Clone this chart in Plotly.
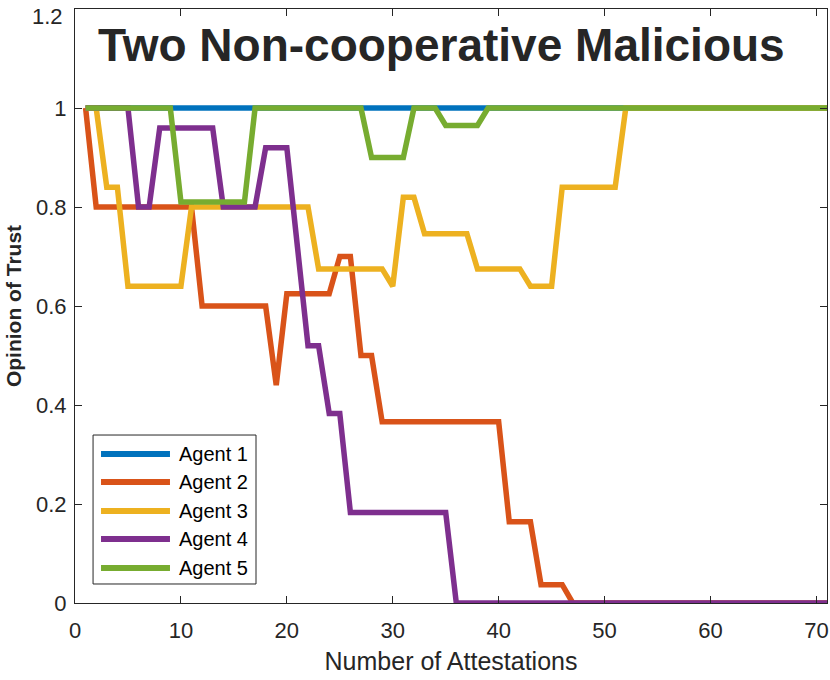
import plotly.graph_objects as go

# ---- data ----
attestations = list(range(1, 72))

agent1 = [1.0] * 71

agent2 = ([1.0] + [0.8] * 10 + [0.6] * 7 + [0.44] + [0.625] * 5 + [0.70] * 2 +
          [0.5] * 2 + [0.366] * 12 + [0.164] * 3 + [0.037] * 3 + [0.0] * 25)

agent3 = ([1.0] * 2 + [0.84] * 2 + [0.64] * 6 + [0.8] * 12 + [0.675] * 7 + [0.64] +
          [0.82] * 2 + [0.746] * 5 + [0.675] * 5 + [0.64] * 3 + [0.84] * 6 + [1.0] * 20)

agent4 = ([1.0] * 5 + [0.8] * 2 + [0.96] * 6 + [0.8] * 4 + [0.92] * 3 + [0.72] +
          [0.52] * 2 + [0.383] * 2 + [0.183] * 10 + [0.0] * 36)

agent5 = ([1.0] * 9 + [0.81] * 7 + [1.0] * 11 + [0.9] * 4 + [1.0] * 3 + [0.965] * 4 +
          [1.0] * 33)

series_names = ["Agent 1", "Agent 2", "Agent 3", "Agent 4", "Agent 5"]
series_values = [agent1, agent2, agent3, agent4, agent5]
colors = ["#0072BD", "#D95319", "#EDB120", "#7E2F8E", "#77AC30"]

x_ticks = [0, 10, 20, 30, 40, 50, 60, 70]
y_ticks = [0, 0.2, 0.4, 0.6, 0.8, 1.0, 1.2]
y_tick_labels = ["0", "0.2", "0.4", "0.6", "0.8", "1", "1.2"]

FONT = "Liberation Sans, Arial, Helvetica, sans-serif"
INK = "#262626"

fig = go.Figure()
for name, vals, col in zip(series_names, series_values, colors):
    fig.add_trace(go.Scatter(x=attestations, y=vals, mode="lines", name=name,
                             line=dict(color=col, width=5.5), showlegend=False))

# custom MATLAB-style legend
L_x0, L_x1, L_y0, L_y1 = 0.024, 0.2407, 0.032, 0.2828
shapes = [dict(type="rect", xref="paper", yref="paper", x0=L_x0, x1=L_x1, y0=L_y0, y1=L_y1,
               line=dict(color=INK, width=1), fillcolor="white", layer="above")]
annotations = []
entry_y = [0.2508, 0.2037, 0.1549, 0.1077, 0.0589]
for name, col, yy in zip(series_names, colors, entry_y):
    shapes.append(dict(type="line", xref="paper", yref="paper", x0=0.0346, x1=0.1263,
                       y0=yy, y1=yy, line=dict(color=col, width=6), layer="above"))
    annotations.append(dict(text=name, xref="paper", yref="paper", x=0.1352, y=yy,
                            xanchor="left", yanchor="middle", showarrow=False,
                            font=dict(family=FONT, size=20, color="black")))

annotations.append(dict(text="<b>Two Non-cooperative Malicious</b>", xref="paper", yref="paper",
                        x=0.488, y=0.94, xanchor="center", yanchor="middle", showarrow=False,
                        font=dict(family=FONT, size=46, color=INK)))

# top tick label kept inside the figure (as in the MATLAB export)
axis_tick_text = y_tick_labels[:-1] + [""]
annotations.append(dict(text=y_tick_labels[-1], xref="paper", yref="y", x=0, y=y_ticks[-1],
                        xanchor="right", yanchor="middle", xshift=-10, yshift=-7,
                        showarrow=False, font=dict(family=FONT, size=22, color=INK)))

fig.update_layout(
    width=830, height=680,
    margin=dict(l=75, r=3, t=9, b=77),
    paper_bgcolor="white", plot_bgcolor="white",
    font=dict(family=FONT, color=INK),
    shapes=shapes, annotations=annotations,
    xaxis=dict(range=[0, 71], tickvals=x_ticks, ticks="inside", ticklen=7, tickcolor=INK,
               showline=True, linecolor=INK, linewidth=1, mirror="ticks", showgrid=False,
               zeroline=False, tickfont=dict(size=22, color=INK), automargin=False,
               ticklabelstandoff=8,
               title=dict(text="Number of Attestations", font=dict(size=25, color=INK), standoff=10)),
    yaxis=dict(range=[0, 1.2002], tickvals=y_ticks, ticktext=axis_tick_text, ticks="inside",
               ticklen=7, tickcolor=INK, showline=True, linecolor=INK, linewidth=1,
               mirror="ticks", showgrid=False, zeroline=False, tickfont=dict(size=22, color=INK),
               automargin=False, ticklabelstandoff=3,
               title=dict(text="<b>Opinion of Trust</b>", font=dict(size=21, color=INK), standoff=8)),
)

fig.write_html("out.html", config={"displayModeBar": False},
               post_script="document.body.style.margin='0';document.body.style.padding='0';")
